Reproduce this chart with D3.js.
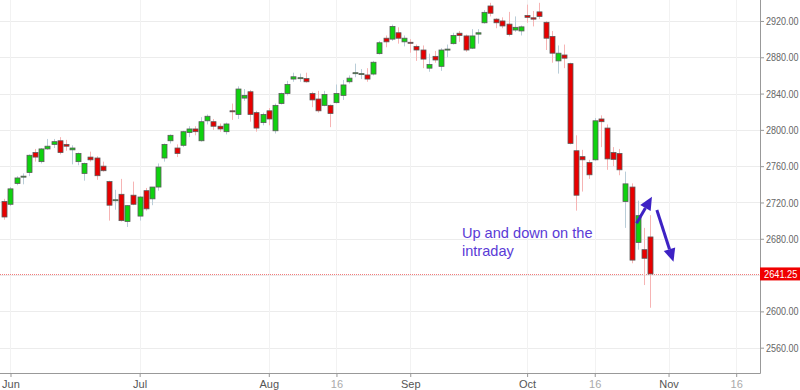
<!DOCTYPE html>
<html>
<head>
<meta charset="utf-8">
<script src="https://cdn.jsdelivr.net/npm/d3@7"></script>
<style>
  body { margin: 0; background: #fff; }
  svg { display: block; font-family: "Liberation Sans", Arial, sans-serif; }
</style>
</head>
<body>
<svg id="chart" width="800" height="390"></svg>
<script>
// daily candles, 31 May 2018 .. 29 Oct 2018 (one per trading day)
const opens = [2721, 2718, 2741, 2748, 2753, 2775, 2765, 2779, 2784, 2788, 2784, 2778, 2765, 2752, 2770, 2769, 2760, 2743, 2722, 2729, 2699,
  2728, 2705, 2733, 2724, 2737, 2769, 2788, 2780, 2783, 2797, 2801, 2788, 2810, 2809, 2804, 2798, 2821, 2817, 2835, 2842,
  2819, 2808, 2821, 2799, 2829, 2840, 2856, 2857, 2856.5, 2840, 2834, 2827, 2827, 2830, 2838, 2853, 2862, 2861, 2860.5, 2861.5,
  2884, 2901, 2900, 2907, 2897, 2896.5, 2892, 2888, 2868, 2881, 2870, 2888, 2895, 2906.5, 2903.5, 2890, 2905.5, 2918, 2936.5, 2922,
  2920, 2916.5, 2910, 2909, 2926, 2923.5, 2930, 2918.5, 2903, 2876, 2882.5, 2873, 2777, 2770.5, 2764, 2767, 2812, 2802, 2775, 2774,
  2721, 2737, 2676, 2668, 2682]
const highs = [2724, 2737, 2749, 2752, 2773, 2779, 2780, 2790, 2790, 2792, 2789, 2783, 2775, 2764, 2776, 2771, 2765, 2744, 2734, 2746, 2717,
  2743, 2727, 2736, 2737, 2763, 2785, 2795, 2784, 2799, 2804, 2804, 2814, 2817, 2812, 2807, 2808, 2829, 2848, 2845, 2844,
  2821, 2819, 2824, 2829, 2841, 2854, 2863, 2862, 2863, 2842, 2843, 2843, 2828, 2850, 2855, 2860, 2873, 2867, 2868, 2876,
  2898, 2904, 2916, 2913, 2904, 2900, 2894, 2893, 2884, 2887, 2890, 2894, 2907, 2909, 2905, 2911, 2911, 2932, 2940, 2923,
  2924, 2930, 2925, 2915, 2938, 2931, 2940, 2920, 2909, 2893, 2894, 2874, 2794, 2778, 2767, 2813, 2816, 2806, 2781, 2779,
  2754, 2741, 2722, 2692, 2706]
const lows = [2701, 2716, 2739, 2740, 2749, 2765, 2763, 2778, 2780, 2773, 2777, 2762, 2761, 2744, 2765, 2745, 2754, 2700, 2712, 2699, 2693,
  2717, 2700, 2711, 2717, 2733, 2765, 2785, 2770, 2781, 2792, 2794, 2787, 2806, 2800, 2798, 2795, 2811, 2812, 2832, 2809,
  2798, 2805, 2805, 2796, 2828, 2838, 2853, 2853, 2852, 2825, 2819, 2826, 2803, 2829, 2833, 2851, 2858, 2856, 2853, 2860,
  2883, 2891, 2898, 2895, 2892, 2885, 2876, 2868, 2864, 2874, 2865, 2880, 2894, 2897, 2886, 2889, 2895, 2917, 2925, 2912,
  2912, 2903, 2908, 2904, 2918, 2914, 2922, 2888, 2874, 2862, 2868, 2784, 2711, 2732, 2746, 2766, 2781, 2756, 2760, 2750,
  2692, 2653, 2668, 2629, 2604]
const closes = [2704, 2735, 2747, 2749, 2772, 2770, 2779, 2782, 2787, 2775, 2782, 2780, 2774, 2763, 2767, 2749.5, 2755, 2717, 2723, 2700, 2716.5,
  2718, 2726, 2713, 2737, 2759, 2784, 2794, 2774, 2798, 2801, 2798, 2809, 2815, 2804, 2801, 2806.5, 2820, 2845, 2838, 2817,
  2802, 2817, 2812, 2827, 2840, 2850, 2858.5, 2857.5, 2853, 2833, 2821, 2839, 2818, 2840, 2849.5, 2857, 2863, 2862, 2856, 2874.5,
  2896, 2897, 2914, 2901, 2901, 2896, 2888, 2878, 2872, 2877, 2888, 2889, 2904, 2904, 2888, 2903.5, 2907, 2929.5, 2928.5, 2918,
  2914.5, 2905, 2913, 2913.5, 2924, 2922, 2925, 2901, 2884.5, 2884.5, 2879, 2785, 2728, 2767, 2750.5, 2810, 2809, 2768, 2767.5, 2756,
  2740.5, 2656.5, 2705.5, 2658.5, 2641.25]

const holidays = ['2018-07-04', '2018-09-03', '2018-11-22']
const yTicks = [2560, 2600, 2640, 2680, 2720, 2760, 2800, 2840, 2880, 2920]
const xTickDates = ['2018-06-01', '2018-07-02', '2018-08-01', '2018-08-16', '2018-09-04', '2018-10-01', '2018-10-16', '2018-11-01', '2018-11-16']
const xTickLabels = ['Jun', 'Jul', 'Aug', '16', 'Sep', 'Oct', '16', 'Nov', '16']
const lastPrice = 2641.25
const noteLines = ['Up and down on the', 'intraday']

// trading calendar (weekdays minus holidays)
const fmt = d3.timeFormat('%Y-%m-%d')
const days = d3.timeDay.range(new Date(2018, 4, 31), new Date(2018, 10, 30))
  .filter((d) => d.getDay() !== 0 && d.getDay() !== 6 && !holidays.includes(fmt(d)))
  .map(fmt)
const pos = (s) => days.indexOf(s)

const width = 800
const height = 390
const plotRight = 760
const plotBottom = 373

const x = d3.scaleLinear().domain([-0.707, 122.87]).range([0, plotRight])
const y = d3.scaleLinear().domain([2532.1, 2943.1]).range([plotBottom, 0])

const svg = d3.select('#chart')

// grid
svg.append('g')
  .selectAll('line')
  .data(yTicks)
  .join('line')
  .attr('x1', 0)
  .attr('x2', plotRight)
  .attr('y1', (d) => Math.round(y(d)) + 0.5)
  .attr('y2', (d) => Math.round(y(d)) + 0.5)
  .attr('stroke', '#ececec')

svg.append('g')
  .selectAll('line')
  .data(xTickDates)
  .join('line')
  .attr('x1', (d) => Math.round(x(pos(d))) + 0.5)
  .attr('x2', (d) => Math.round(x(pos(d))) + 0.5)
  .attr('y1', 0)
  .attr('y2', plotBottom)
  .attr('stroke', '#f2f2f2')

// last price dotted line
svg.append('line')
  .attr('x1', 0)
  .attr('x2', plotRight)
  .attr('y1', Math.round(y(lastPrice)) + 0.5)
  .attr('y2', Math.round(y(lastPrice)) + 0.5)
  .attr('stroke', '#f27c7c')
  .attr('stroke-dasharray', '1,1')

// candles
const candles = opens.map((o, i) => ({ i, o, h: highs[i], l: lows[i], c: closes[i] }))
const up = (d) => d.c >= d.o

svg.append('g')
  .selectAll('line')
  .data(candles)
  .join('line')
  .attr('x1', (d) => Math.round(x(d.i)) + 0.5)
  .attr('x2', (d) => Math.round(x(d.i)) + 0.5)
  .attr('y1', (d) => y(d.h))
  .attr('y2', (d) => y(d.l))
  .attr('stroke', (d) => (up(d) ? '#b9cdd8' : '#f6b4b4'))

svg.append('g')
  .selectAll('rect')
  .data(candles)
  .join('rect')
  .attr('x', (d) => Math.round(x(d.i)) - 2)
  .attr('width', 5)
  .attr('y', (d) => y(Math.max(d.o, d.c)))
  .attr('height', (d) => Math.max(1, Math.abs(y(d.o) - y(d.c))))
  .attr('fill', (d) => (up(d) ? '#0fd20f' : '#e80000'))
  .attr('stroke', '#5a5a5a')
  .attr('stroke-width', 0.8)

// axes (the price tag hides the label it sits on)
const ly = y(lastPrice)
const yAxis = svg.append('g')
  .attr('transform', `translate(${plotRight},0)`)
  .call(d3.axisRight(y).tickValues(yTicks).tickSize(4).tickPadding(2).tickFormat(d3.format('.2f')))
yAxis.select('.domain').attr('stroke', '#999').attr('d', `M0.5,0V${plotBottom + 0.5}`)
yAxis.selectAll('.tick line').attr('stroke', '#999')
yAxis.selectAll('.tick text')
  .attr('fill', '#666')
  .style('font-size', '11px')
  .attr('x', 0)
  .attr('transform', 'translate(6,0) scale(0.82,1)')
yAxis.selectAll('.tick').filter((d) => Math.abs(y(d) - ly) < 10).select('text').remove()

const xAxis = svg.append('g')
  .attr('transform', `translate(0,${plotBottom})`)
  .call(d3.axisBottom(x).tickValues(xTickDates.map(pos)).tickSize(4).tickPadding(3)
    .tickFormat((d, k) => xTickLabels[k]))
xAxis.select('.domain').attr('stroke', '#999').attr('d', `M0,0.5H${plotRight + 0.5}`)
xAxis.selectAll('.tick line').attr('stroke', '#999')
xAxis.selectAll('.tick text')
  .attr('fill', (d, k) => (xTickLabels[k] === '16' ? '#aaa' : '#555'))
  .style('font-size', '11px')

// last price tag
svg.append('rect')
  .attr('x', plotRight)
  .attr('y', ly - 6.5)
  .attr('width', width - plotRight)
  .attr('height', 13)
  .attr('fill', '#f00000')
svg.append('text')
  .attr('transform', `translate(${plotRight + 4},${ly + 4}) scale(0.84,1)`)
  .attr('fill', '#fff')
  .style('font-size', '11px')
  .text(d3.format('.2f')(lastPrice))

// annotation
svg.append('text')
  .attr('x', x(74.4))
  .attr('y', y(2680.5))
  .attr('fill', '#5a3bd6')
  .style('font-size', '14.6px')
  .selectAll('tspan')
  .data(noteLines)
  .join('tspan')
  .attr('x', x(74.4))
  .attr('dy', (d, k) => (k === 0 ? 0 : 18))
  .text((d) => d)

const arrows = [
  { from: [102.8, 2697], to: [105.3, 2726.4] },
  { from: [106.1, 2711.7], to: [108.8, 2654.8] },
]
arrows.forEach((a) => {
  const x0 = x(a.from[0])
  const y0 = y(a.from[1])
  const x1 = x(a.to[0])
  const y1 = y(a.to[1])
  const ang = Math.atan2(y1 - y0, x1 - x0)
  const len = 13
  const half = 6
  const bx = x1 - len * Math.cos(ang)
  const by = y1 - len * Math.sin(ang)
  svg.append('line')
    .attr('x1', x0).attr('y1', y0)
    .attr('x2', bx).attr('y2', by)
    .attr('stroke', '#3d22c4')
    .attr('stroke-width', 3)
  svg.append('path')
    .attr('d', `M${x1},${y1}L${bx + half * Math.sin(ang)},${by - half * Math.cos(ang)}L${bx - half * Math.sin(ang)},${by + half * Math.cos(ang)}Z`)
    .attr('fill', '#3d22c4')
})
</script>
</body>
</html>
